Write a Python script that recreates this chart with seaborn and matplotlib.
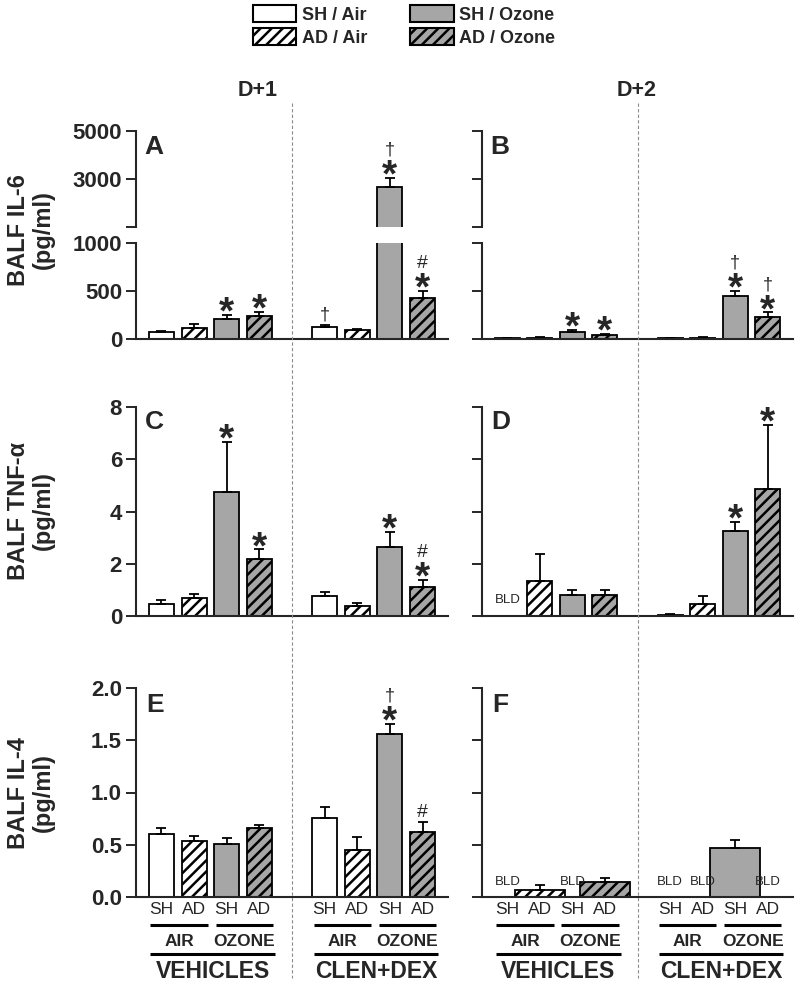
import numpy as np
import pandas as pd
import matplotlib
matplotlib.use('Agg')
import matplotlib.pyplot as plt
import seaborn as sns
from matplotlib.lines import Line2D
from matplotlib.patches import Patch
from matplotlib.transforms import blended_transform_factory

nan = np.nan

# groups, in bar order (vehicles first, then clen+dex)
groups = ['SH / Air', 'AD / Air', 'SH / Ozone', 'AD / Ozone'] * 2
x_pos = [0, 1, 2, 3, 5, 6, 7, 8]
genotypes = ['SH', 'AD']
exposures = ['AIR', 'OZONE']
treatments = ['VEHICLES', 'CLEN+DEX']
days = ['D+1', 'D+2']

# BALF IL-6 (pg/ml)
il6_d1 = [70, 115, 210, 240, 125, 90, 2680, 430]
il6_d1_err = [15, 40, 40, 38, 20, 18, 370, 70]
il6_d1_sig = ['', '', '*', '*', '†', '', '*†', '*#']
il6_d2 = [8, 12, 73, 37, 10, 15, 450, 232]
il6_d2_err = [5, 6, 25, 20, 5, 8, 55, 45]
il6_d2_sig = ['', '', '*', '*', '', '', '*†', '*†']

# BALF TNF-alpha (pg/ml)
tnf_d1 = [0.46, 0.70, 4.75, 2.20, 0.77, 0.37, 2.65, 1.10]
tnf_d1_err = [0.15, 0.13, 1.92, 0.35, 0.16, 0.11, 0.57, 0.27]
tnf_d1_sig = ['', '', '*', '*', '', '', '*', '*#']
tnf_d2 = [nan, 1.35, 0.80, 0.80, 0.05, 0.45, 3.27, 4.85]
tnf_d2_err = [nan, 1.02, 0.20, 0.20, 0.03, 0.30, 0.32, 2.45]
tnf_d2_sig = ['', '', '', '', '', '', '*', '*']

# BALF IL-4 (pg/ml)
il4_d1 = [0.60, 0.54, 0.51, 0.66, 0.76, 0.45, 1.56, 0.62]
il4_d1_err = [0.06, 0.045, 0.05, 0.03, 0.10, 0.12, 0.10, 0.095]
il4_d1_sig = ['', '', '', '', '', '', '*†', '#']
il4_d2 = [nan, 0.07, nan, 0.14, nan, nan, 0.47, nan]
il4_d2_err = [nan, 0.045, nan, 0.045, nan, nan, 0.08, nan]
il4_d2_sig = [''] * 8

fills = {'SH / Air': 'white', 'AD / Air': 'white',
         'SH / Ozone': '#a6a6a6', 'AD / Ozone': '#a6a6a6'}

sns.set_style('ticks')
plt.rcParams['font.family'] = ['Liberation Sans', 'DejaVu Sans']
plt.rcParams['hatch.linewidth'] = 1.8
plt.rcParams['hatch.color'] = 'black'
plt.rcParams['axes.linewidth'] = 1.5

W, H = 800, 985
fig = plt.figure(figsize=(8, 9.85), dpi=100)


def box(left, top, right, bottom):
    return [left / W, 1 - bottom / H, (right - left) / W, (bottom - top) / H]


def fy(px):
    return 1 - px / H


def draw_bars(ax, vals, errs):
    df = pd.DataFrame({'pos': x_pos, 'value': vals, 'group': groups}).dropna()
    sns.barplot(data=df, x='pos', y='value', hue='group', palette=fills,
                native_scale=True, dodge=False, width=0.77, edgecolor='black',
                linewidth=1.3, errorbar=None, legend=False, ax=ax)
    for p in ax.patches:
        i = x_pos.index(int(round(p.get_x() + p.get_width() / 2)))
        if groups[i].startswith('AD'):
            p.set_hatch('///')
    ax.errorbar(x_pos, vals, yerr=[np.zeros(len(vals)), errs], fmt='none',
                ecolor='black', elinewidth=1.3, capsize=3.6, capthick=1.3)
    ax.set_xlim(-0.78, 8.78)
    ax.set_xlabel('')
    ax.set_ylabel('')
    ax.set_xticks([])
    ax.spines[['top', 'right']].set_visible(False)
    ax.tick_params(axis='y', length=7, width=1.4, pad=3)


def set_y(ax, ticks, labels, show):
    ax.set_yticks(ticks, labels if show else [''] * len(ticks),
                  fontsize=16, fontweight='bold')


sym_size = {'*': 28, '†': 13, '#': 14}
sym_shift = {'*': -6, '†': 0, '#': 0}


def mark(axes, vals, errs, sigs):
    for x, v, e, s in zip(x_pos, vals, errs, sigs):
        if not s:
            continue
        top = v + e
        ax = axes[0]
        for a in axes:
            lo, hi = a.get_ylim()
            if lo <= top <= hi:
                ax = a
        off = 7
        for ch in s:
            ax.annotate(ch, xy=(x, top), xytext=(0, off + sym_shift[ch]),
                        textcoords='offset points', ha='center', va='center',
                        fontsize=sym_size[ch],
                        fontweight='bold' if ch == '*' else 'normal',
                        annotation_clip=False)
            off += 13


def bld(ax, vals, y):
    for x, v in zip(x_pos, vals):
        if np.isnan(v):
            ax.text(x, y, 'BLD', ha='center', va='center', fontsize=9.5)


def group_labels(ax):
    tr = blended_transform_factory(ax.transData, fig.transFigure)
    for x, g in zip(x_pos, genotypes * 4):
        ax.text(x, fy(910), g, transform=tr, ha='center', va='center',
                fontsize=12.5)
    for k, lab in enumerate(exposures * 2):
        x0, x1 = x_pos[2 * k] - 0.34, x_pos[2 * k + 1] + 0.42
        ax.add_line(Line2D([x0, x1], [fy(925)] * 2, transform=tr, color='black',
                           lw=2.2, clip_on=False, solid_capstyle='butt'))
        ax.text((x0 + x1) / 2, fy(941), lab, transform=tr, ha='center',
                va='center', fontsize=12.5, fontweight='bold')
    for k, lab in enumerate(treatments):
        x0, x1 = x_pos[4 * k] - 0.34, x_pos[4 * k + 3] + 0.48
        ax.add_line(Line2D([x0, x1], [fy(954)] * 2, transform=tr, color='black',
                           lw=2.2, clip_on=False, solid_capstyle='butt'))
        ax.text((x0 + x1) / 2, fy(972), lab, transform=tr, ha='center',
                va='center', fontsize=16.5, fontweight='bold')


cols = [(136, 448), (482, 793)]

# IL-6, broken axis
il6 = [(il6_d1, il6_d1_err, il6_d1_sig), (il6_d2, il6_d2_err, il6_d2_sig)]
for c, ((l, r), (vals, errs, sigs)) in enumerate(zip(cols, il6)):
    ax_top = fig.add_axes(box(l, 131, r, 227))
    ax_bot = fig.add_axes(box(l, 243, r, 339))
    draw_bars(ax_top, vals, errs)
    draw_bars(ax_bot, vals, errs)
    ax_top.set_ylim(1000, 5000)
    ax_bot.set_ylim(0, 1000)
    ax_top.spines['bottom'].set_visible(False)
    set_y(ax_top, [1000, 3000, 5000], ['', '3000', '5000'], c == 0)
    set_y(ax_bot, [0, 500, 1000], ['0', '500', '1000'], c == 0)
    mark([ax_bot, ax_top], vals, errs, sigs)
    fig.text((l + 8) / W, fy(147), 'AB'[c], ha='left', va='center',
             fontsize=19, fontweight='bold')
    fig.text([258, 637][c] / W, fy(90), days[c], ha='center', va='center',
             fontsize=15.5, fontweight='bold')

    tr = blended_transform_factory(ax_bot.transData, fig.transFigure)
    fig.add_artist(Line2D([4, 4], [fy(103), fy(978)], transform=tr,
                          color='#8c8c8c', lw=0.8, ls=(0, (3, 2))))

# TNF-alpha
tnf = [(tnf_d1, tnf_d1_err, tnf_d1_sig), (tnf_d2, tnf_d2_err, tnf_d2_sig)]
for c, ((l, r), (vals, errs, sigs)) in enumerate(zip(cols, tnf)):
    ax = fig.add_axes(box(l, 407, r, 616))
    draw_bars(ax, vals, errs)
    ax.set_ylim(0, 8)
    set_y(ax, [0, 2, 4, 6, 8], ['0', '2', '4', '6', '8'], c == 0)
    mark([ax], vals, errs, sigs)
    bld(ax, vals, 0.6)
    fig.text((l + 9) / W, fy(422), 'CD'[c], ha='left', va='center',
             fontsize=19, fontweight='bold')

# IL-4
il4 = [(il4_d1, il4_d1_err, il4_d1_sig), (il4_d2, il4_d2_err, il4_d2_sig)]
for c, ((l, r), (vals, errs, sigs)) in enumerate(zip(cols, il4)):
    ax = fig.add_axes(box(l, 688, r, 897))
    draw_bars(ax, vals, errs)
    ax.set_ylim(0, 2)
    set_y(ax, [0, 0.5, 1.0, 1.5, 2.0], ['0.0', '0.5', '1.0', '1.5', '2.0'], c == 0)
    mark([ax], vals, errs, sigs)
    bld(ax, vals, 0.144)
    group_labels(ax)
    fig.text((l + 10) / W, fy(705), 'EF'[c], ha='left', va='center',
             fontsize=19, fontweight='bold')

# y axis titles
ylabels = ['BALF IL-6\n(pg/ml)', 'BALF TNF-α\n(pg/ml)', 'BALF IL-4\n(pg/ml)']
for lab, yc in zip(ylabels, [230, 511, 793]):
    fig.text(31 / W, fy(yc), lab, rotation=90, ha='center', va='center',
             fontsize=17, fontweight='bold', linespacing=1.15)

# legend
handles = [Patch(facecolor=fills[g], edgecolor='black', linewidth=1.5,
                 hatch='///' if g.startswith('AD') else None)
           for g in groups[:4]]
fig.legend(handles, groups[:4], ncol=2, loc='upper center',
           bbox_to_anchor=(0.505, 1.0), frameon=False,
           prop={'weight': 'bold', 'size': 13}, handlelength=2.4,
           handleheight=1.05, handletextpad=0.3, columnspacing=2.4,
           labelspacing=0.25, borderaxespad=0.1, borderpad=0.2)

fig.savefig('out.png', dpi=100)
